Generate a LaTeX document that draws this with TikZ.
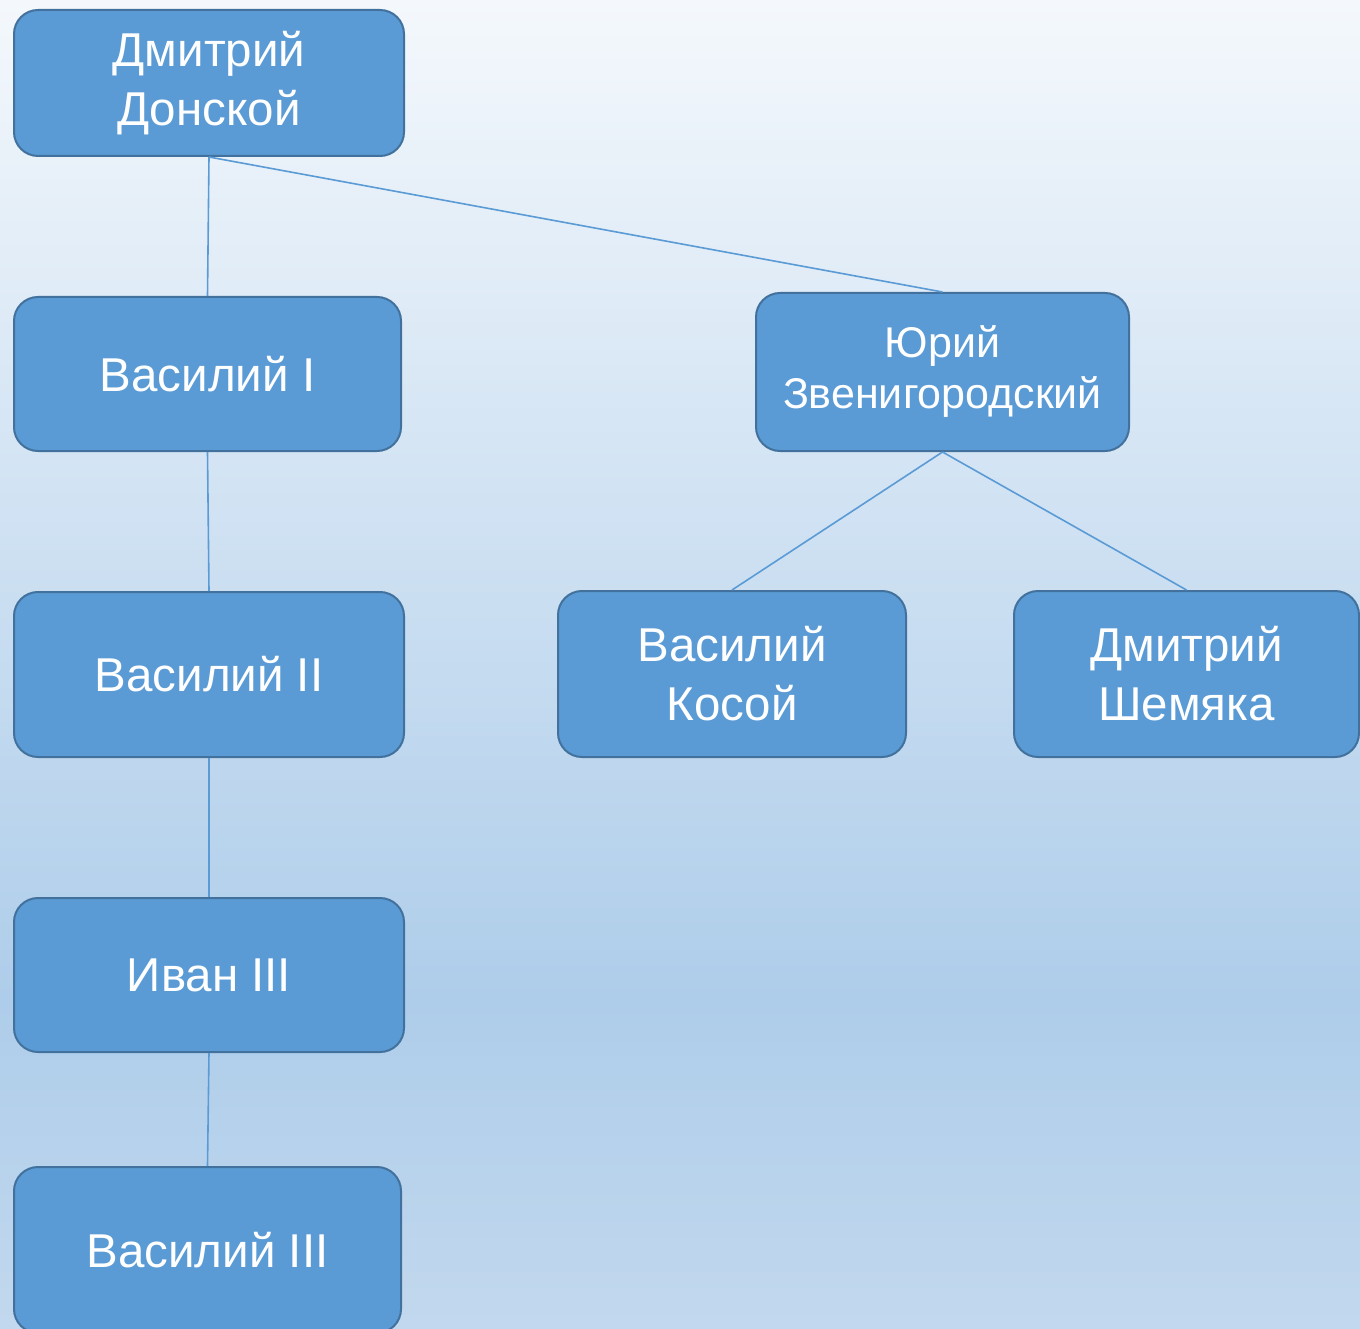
\documentclass[tikz,border=0pt]{standalone}
\usepackage{fontspec}
\setmainfont{Liberation Sans}
\definecolor{bgtop}{HTML}{F4F8FC}
\definecolor{bgmid}{HTML}{AECDEA}
\definecolor{bgbot}{HTML}{C2D8EE}
\definecolor{boxfill}{HTML}{5B9BD5}
\definecolor{boxline}{HTML}{41719C}
\definecolor{conn}{HTML}{5B9BD5}
\tikzset{
  person/.style={draw=boxline, line width=2pt, fill=boxfill, rounded corners=24pt,
    text=white, align=center, inner sep=0pt,
    font=\fontsize{47.5}{59}\selectfont},
  smallperson/.style={person, font=\fontsize{43}{51}\selectfont},
  link/.style={draw=conn, line width=1.6pt}
}
\begin{document}
\begin{tikzpicture}[x=1pt,y=-1pt]
\useasboundingbox (0,0) rectangle (1360,1329);
\shade[top color=bgtop, bottom color=bgmid] (0,0) rectangle (1360,1000);
\shade[top color=bgmid, bottom color=bgbot] (0,999) rectangle (1360,1329);

\node[person, minimum width=390pt, minimum height=146pt] (dd) at (209,83) {Дмитрий\\Донской};
\node[person, minimum width=387pt, minimum height=154pt] (v1) at (207.5,374) {Василий I};
\node[person, minimum width=390pt, minimum height=165pt] (v2) at (209,674.5) {Василий II};
\node[person, minimum width=390pt, minimum height=154pt] (iv) at (209,975) {Иван III};
\node[person, minimum width=387pt, minimum height=166pt] (v3) at (207.5,1250) {Василий III};
\node[smallperson, minimum width=373pt, minimum height=158pt] (yu) at (942.5,372) {Юрий\\Звенигородский};
\node[person, minimum width=348pt, minimum height=166pt] (ko) at (732,674) {Василий\\Косой};
\node[person, minimum width=345pt, minimum height=166pt] (sh) at (1186.5,674) {Дмитрий\\Шемяка};

\draw[link] (dd.south) -- (v1.north);
\draw[link] (dd.south) -- (yu.north);
\draw[link] (v1.south) -- (v2.north);
\draw[link] (v2.south) -- (iv.north);
\draw[link] (iv.south) -- (v3.north);
\draw[link] (yu.south) -- (ko.north);
\draw[link] (yu.south) -- (sh.north);
\end{tikzpicture}
\end{document}
